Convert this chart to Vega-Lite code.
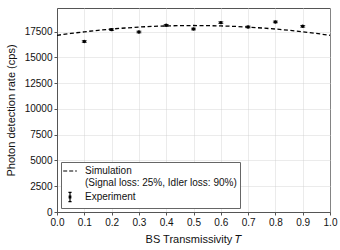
{
  "$schema": "https://vega.github.io/schema/vega-lite/v6.json",
  "width": 273,
  "height": 204,
  "autosize": {"type": "none"},
  "padding": {"left": 57, "top": 8, "right": 10, "bottom": 38},
  "background": "white",
  "config": {
    "font": "Liberation Sans",
    "view": {"stroke": "#555", "strokeWidth": 1},
    "axis": {
      "labelFont": "Liberation Sans", "titleFont": "Liberation Sans",
      "labelFontSize": 10, "titleFontSize": 11, "titleFontWeight": "normal",
      "labelColor": "#111", "titleColor": "#111",
      "domainColor": "#555", "tickColor": "#555", "tickSize": 3,
      "gridColor": "#ccc", "gridDash": [1, 1], "gridWidth": 0.8
    }
  },
  "datasets": {
    "sim": [
      {"T": 0.0, "rate": 17150, "series": "Simulation"},
      {"T": 0.05, "rate": 17330, "series": "Simulation"},
      {"T": 0.1, "rate": 17490, "series": "Simulation"},
      {"T": 0.15, "rate": 17635, "series": "Simulation"},
      {"T": 0.2, "rate": 17760, "series": "Simulation"},
      {"T": 0.25, "rate": 17860, "series": "Simulation"},
      {"T": 0.3, "rate": 17950, "series": "Simulation"},
      {"T": 0.35, "rate": 18015, "series": "Simulation"},
      {"T": 0.4, "rate": 18060, "series": "Simulation"},
      {"T": 0.45, "rate": 18090, "series": "Simulation"},
      {"T": 0.5, "rate": 18100, "series": "Simulation"},
      {"T": 0.55, "rate": 18090, "series": "Simulation"},
      {"T": 0.6, "rate": 18060, "series": "Simulation"},
      {"T": 0.65, "rate": 18015, "series": "Simulation"},
      {"T": 0.7, "rate": 17950, "series": "Simulation"},
      {"T": 0.75, "rate": 17860, "series": "Simulation"},
      {"T": 0.8, "rate": 17760, "series": "Simulation"},
      {"T": 0.85, "rate": 17635, "series": "Simulation"},
      {"T": 0.9, "rate": 17490, "series": "Simulation"},
      {"T": 0.95, "rate": 17330, "series": "Simulation"},
      {"T": 1.0, "rate": 17150, "series": "Simulation"}
    ],
    "exp": [
      {"T": 0.1, "rate": 16550, "lo": 16470, "hi": 16630, "series": "Experiment"},
      {"T": 0.2, "rate": 17700, "lo": 17620, "hi": 17780, "series": "Experiment"},
      {"T": 0.3, "rate": 17470, "lo": 17390, "hi": 17550, "series": "Experiment"},
      {"T": 0.4, "rate": 18120, "lo": 18040, "hi": 18200, "series": "Experiment"},
      {"T": 0.5, "rate": 17760, "lo": 17680, "hi": 17840, "series": "Experiment"},
      {"T": 0.6, "rate": 18380, "lo": 18300, "hi": 18460, "series": "Experiment"},
      {"T": 0.7, "rate": 17960, "lo": 17880, "hi": 18040, "series": "Experiment"},
      {"T": 0.8, "rate": 18450, "lo": 18370, "hi": 18530, "series": "Experiment"},
      {"T": 0.9, "rate": 18020, "lo": 17940, "hi": 18100, "series": "Experiment"}
    ]
  },
  "encoding": {
    "x": {
      "field": "T", "type": "quantitative",
      "scale": {"domain": [0, 1], "nice": false, "zero": false},
      "axis": {"values": [0, 0.1, 0.2, 0.3, 0.4, 0.5, 0.6, 0.7, 0.8, 0.9, 1.0], "format": ".1f", "title": "BS Transmissivity 𝑇", "titlePadding": 6, "labelFlush": false}
    },
    "y": {
      "field": "rate", "type": "quantitative",
      "scale": {"domain": [0, 19800], "nice": false},
      "axis": {"values": [0, 2500, 5000, 7500, 10000, 12500, 15000, 17500], "format": "d", "title": "Photon detection rate (cps)", "titlePadding": 8}
    }
  },
  "layer": [
    {
      "data": {"name": "sim"},
      "mark": {"type": "line", "strokeDash": [4, 2.5], "strokeWidth": 1.3},
      "encoding": {
        "color": {
          "field": "series", "type": "nominal",
          "scale": {"domain": ["Simulation", "Experiment"], "range": ["black", "black"]},
          "legend": {
            "title": null,
            "orient": "bottom-left",
            "offset": 4,
            "padding": 3,
            "strokeColor": "#666",
            "fillColor": "white",
            "labelFont": "Liberation Sans",
            "labelFontSize": 10,
            "labelColor": "#111",
            "labelLimit": 300,
            "rowPadding": 1,
            "symbolSize": 110,
            "labelOffset": 9,
            "labelExpr": "datum.label == 'Simulation' ? ['Simulation', '(Signal loss: 25%, Idler loss: 90%)'] : datum.label",
            "encode": {
              "labels": {"update": {"lineHeight": {"value": 11.5}}},
              "symbols": {
                "update": {
                  "shape": {"signal": "datum.value == 'Simulation' ? 'M-1.3,0L1.3,0' : 'M0,-0.9L0,0.9M-0.3,-0.9L0.3,-0.9M-0.3,0.9L0.3,0.9M-0.15,-0.15L0.15,-0.15L0.15,0.15L-0.15,0.15Z'"},
                  "strokeDash": {"signal": "datum.value == 'Simulation' ? [4, 2] : [1, 0]"},
                  "stroke": {"value": "black"},
                  "fill": {"value": "black"},
                  "strokeWidth": {"value": 1.2}
                }
              }
            }
          }
        }
      }
    },
    {
      "data": {"name": "exp"},
      "mark": {"type": "rule", "strokeWidth": 1},
      "encoding": {
        "y": {"field": "lo", "type": "quantitative"},
        "y2": {"field": "hi"},
        "color": {"field": "series", "type": "nominal"}
      }
    },
    {
      "data": {"name": "exp"},
      "mark": {"type": "tick", "size": 5, "thickness": 1, "orient": "horizontal"},
      "encoding": {
        "y": {"field": "lo", "type": "quantitative"},
        "color": {"field": "series", "type": "nominal"}
      }
    },
    {
      "data": {"name": "exp"},
      "mark": {"type": "tick", "size": 5, "thickness": 1, "orient": "horizontal"},
      "encoding": {
        "y": {"field": "hi", "type": "quantitative"},
        "color": {"field": "series", "type": "nominal"}
      }
    },
    {
      "data": {"name": "exp"},
      "mark": {"type": "point", "filled": true, "size": 12, "opacity": 1},
      "encoding": {
        "color": {"field": "series", "type": "nominal"}
      }
    }
  ]
}
